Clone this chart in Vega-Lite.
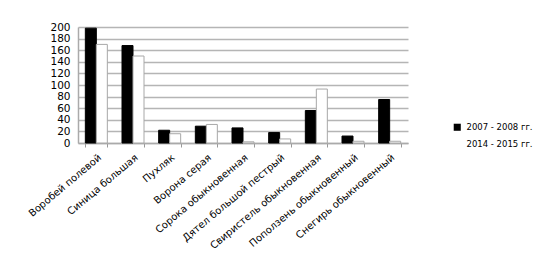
{
  "$schema": "https://vega.github.io/schema/vega-lite/v6.json",
  "autosize": "none",
  "width": 330,
  "height": 116,
  "padding": {"left": 78, "top": 27, "right": 152, "bottom": 125},
  "background": "white",
  "config": {
    "font": "DejaVu Sans",
    "view": {"stroke": null}
  },
  "data": {
    "values": [
      {"species": "Воробей полевой", "period": "2007 - 2008 гг.", "value": 198},
      {"species": "Воробей полевой", "period": "2014 - 2015 гг.", "value": 170},
      {"species": "Синица большая", "period": "2007 - 2008 гг.", "value": 168},
      {"species": "Синица большая", "period": "2014 - 2015 гг.", "value": 150},
      {"species": "Пухляк", "period": "2007 - 2008 гг.", "value": 22},
      {"species": "Пухляк", "period": "2014 - 2015 гг.", "value": 16},
      {"species": "Ворона серая", "period": "2007 - 2008 гг.", "value": 29},
      {"species": "Ворона серая", "period": "2014 - 2015 гг.", "value": 32},
      {"species": "Сорока обыкновенная", "period": "2007 - 2008 гг.", "value": 26},
      {"species": "Сорока обыкновенная", "period": "2014 - 2015 гг.", "value": 2},
      {"species": "Дятел  большой пестрый", "period": "2007 - 2008 гг.", "value": 18},
      {"species": "Дятел  большой пестрый", "period": "2014 - 2015 гг.", "value": 7},
      {"species": "Свиристель обыкновенная", "period": "2007 - 2008 гг.", "value": 56},
      {"species": "Свиристель обыкновенная", "period": "2014 - 2015 гг.", "value": 93},
      {"species": "Поползень обыкновенный", "period": "2007 - 2008 гг.", "value": 12},
      {"species": "Поползень обыкновенный", "period": "2014 - 2015 гг.", "value": 3},
      {"species": "Снегирь обыкновенный", "period": "2007 - 2008 гг.", "value": 75},
      {"species": "Снегирь обыкновенный", "period": "2014 - 2015 гг.", "value": 3}
    ]
  },
  "mark": {"type": "bar", "strokeWidth": 1},
  "encoding": {
    "x": {
      "field": "species",
      "type": "nominal",
      "sort": null,
      "title": null,
      "scale": {"paddingInner": 0.4, "paddingOuter": 0.2},
      "axis": {
        "labelAngle": -40,
        "labelFontSize": 10,
        "labelColor": "#000",
        "labelPadding": 5,
        "tickBand": "extent",
        "tickColor": "#999",
        "tickSize": 4,
        "domainColor": "#aaa",
        "domainWidth": 1.5
      }
    },
    "xOffset": {"field": "period", "type": "nominal", "sort": null},
    "y": {
      "field": "value",
      "type": "quantitative",
      "title": null,
      "scale": {"domain": [0, 200], "nice": false},
      "axis": {
        "values": [0, 20, 40, 60, 80, 100, 120, 140, 160, 180, 200],
        "labelFontSize": 10.5,
        "labelColor": "#000",
        "labelPadding": 8,
        "ticks": false,
        "gridColor": "#b5b5b5",
        "gridWidth": 1.5,
        "domainColor": "#aaa",
        "domainWidth": 1.5
      }
    },
    "color": {
      "field": "period",
      "type": "nominal",
      "sort": null,
      "title": null,
      "scale": {"range": ["#000000", "#ffffff"]},
      "legend": {
        "orient": "none",
        "legendX": 375,
        "legendY": 96,
        "symbolType": "square",
        "symbolSize": 50,
        "symbolStrokeWidth": 0,
        "labelFontSize": 8.5,
        "labelColor": "#000",
        "rowPadding": 8,
        "labelOffset": 5
      }
    },
    "stroke": {
      "field": "period",
      "type": "nominal",
      "sort": null,
      "scale": {"range": ["#000000", "#a8a8a8"]},
      "legend": null
    }
  }
}
